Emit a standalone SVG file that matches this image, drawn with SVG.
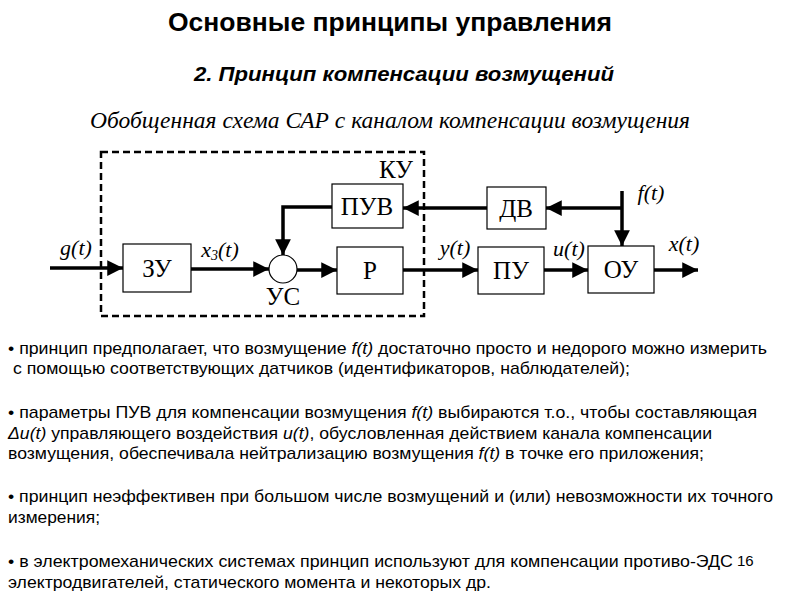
<svg xmlns="http://www.w3.org/2000/svg" width="800" height="600" viewBox="0 0 800 600">
<style>
.box{fill:#fff;stroke:#000;stroke-width:1.2}
.bl{font-family:"Liberation Serif","DejaVu Serif",serif;font-size:25px;text-anchor:middle}
.lab{font-family:"Liberation Serif","DejaVu Serif",serif;font-size:22px;font-style:italic;text-anchor:middle}
.cn{fill:none;stroke:#000;stroke-width:3.5}
.body{font-family:"Liberation Sans","Arial",sans-serif;font-size:17px}
.it{font-style:italic}
</style>
<defs>
<marker id="ar" viewBox="0 0 10 10" refX="10" refY="5" markerWidth="4.5" markerHeight="4.5" orient="auto" markerUnits="strokeWidth">
<path d="M0,0 L10,5 L0,10 z" fill="#000"/>
</marker>
</defs>
<rect width="800" height="600" fill="#fff"/>
<text x="168" y="31" font-family="Liberation Sans,Arial,sans-serif" font-size="26" font-weight="bold" textLength="444" lengthAdjust="spacingAndGlyphs">Основные принципы управления</text>
<text x="194" y="81" font-family="Liberation Sans,Arial,sans-serif" font-size="21" font-weight="bold" font-style="italic" textLength="420" lengthAdjust="spacingAndGlyphs">2. Принцип компенсации возмущений</text>
<text x="90" y="128" font-family="Liberation Serif,serif" font-size="23.5" font-style="italic" textLength="600" lengthAdjust="spacingAndGlyphs">Обобщенная схема САР с каналом компенсации возмущения</text>

<rect x="101" y="152" width="323" height="164" fill="none" stroke="#000" stroke-width="2.5" stroke-dasharray="7,4"/>

<g id="connectors">
<path class="cn" d="M50,268 H123" marker-end="url(#ar)"/>
<path class="cn" d="M191,269 H269" marker-end="url(#ar)"/>
<path class="cn" d="M297,270 H337" marker-end="url(#ar)"/>
<path class="cn" d="M332,207 H283 V255" marker-end="url(#ar)"/>
<path class="cn" d="M403,270 H478" marker-end="url(#ar)"/>
<path class="cn" d="M544,270 H588" marker-end="url(#ar)"/>
<path class="cn" d="M654,270 H698" marker-end="url(#ar)"/>
<path class="cn" d="M622,191 V246" marker-end="url(#ar)"/>
<path class="cn" d="M622,208 H546" marker-end="url(#ar)"/>
<path class="cn" d="M487,208 H403" marker-end="url(#ar)"/>
</g>

<g id="ZU"><rect class="box" x="123" y="244" width="68" height="48"/><text class="bl" x="157" y="277">ЗУ</text></g>
<g id="PUV"><rect class="box" x="332" y="184" width="71" height="44"/><text class="bl" x="367" y="215">ПУВ</text></g>
<g id="R"><rect class="box" x="337" y="247" width="66" height="47"/><text class="bl" x="370" y="279">Р</text></g>
<g id="US"><circle cx="283" cy="269" r="14" fill="#fff" stroke="#000" stroke-width="1.2"/><text class="bl" x="283" y="305" font-size="20">УС</text></g>
<g id="DV"><rect class="box" x="487" y="187" width="59" height="42"/><text class="bl" x="516" y="217">ДВ</text></g>
<g id="PU"><rect class="box" x="478" y="247" width="66" height="47"/><text class="bl" x="511" y="279">ПУ</text></g>
<g id="OU"><rect class="box" x="588" y="246" width="66" height="47"/><text class="bl" x="621" y="278">ОУ</text></g>
<g id="KU"><text class="bl" x="396" y="178" font-size="20">КУ</text></g>

<text class="lab" x="76" y="255">g(t)</text>
<text class="lab" x="220" y="257">x<tspan font-size="14" dy="3">3</tspan><tspan dy="-3">(t)</tspan></text>
<text class="lab" x="455" y="255">y(t)</text>
<text class="lab" x="569" y="256">u(t)</text>
<text class="lab" x="684" y="251">x(t)</text>
<text class="lab" x="651" y="200">f(t)</text>

<g class="body">
<text x="8" y="354" textLength="759" lengthAdjust="spacingAndGlyphs">• принцип предполагает, что возмущение <tspan class="it">f(t)</tspan> достаточно просто и недорого можно измерить</text>
<text x="13" y="374" textLength="617" lengthAdjust="spacingAndGlyphs">с помощью соответствующих датчиков (идентификаторов, наблюдателей);</text>
<text x="8" y="418" textLength="749" lengthAdjust="spacingAndGlyphs">• параметры ПУВ для компенсации возмущения <tspan class="it">f(t)</tspan> выбираются т.о., чтобы составляющая</text>
<text x="8" y="439" textLength="704" lengthAdjust="spacingAndGlyphs"><tspan class="it">Δu(t)</tspan> управляющего воздействия <tspan class="it">u(t)</tspan>, обусловленная действием канала компенсации</text>
<text x="8" y="459" textLength="696" lengthAdjust="spacingAndGlyphs">возмущения, обеспечивала нейтрализацию возмущения <tspan class="it">f(t)</tspan> в точке его приложения;</text>
<text x="8" y="502" textLength="765" lengthAdjust="spacingAndGlyphs">• принцип неэффективен при большом числе возмущений и (или) невозможности их точного</text>
<text x="8" y="523" textLength="92" lengthAdjust="spacingAndGlyphs">измерения;</text>
<text x="8" y="567" textLength="725" lengthAdjust="spacingAndGlyphs">• в электромеханических системах принцип используют для компенсации противо-ЭДС</text>
<text x="8" y="588" textLength="483" lengthAdjust="spacingAndGlyphs">электродвигателей, статического момента и некоторых др.</text>
</g>
<text x="737" y="566" font-family="Liberation Sans,Arial,sans-serif" font-size="15">16</text>
</svg>
